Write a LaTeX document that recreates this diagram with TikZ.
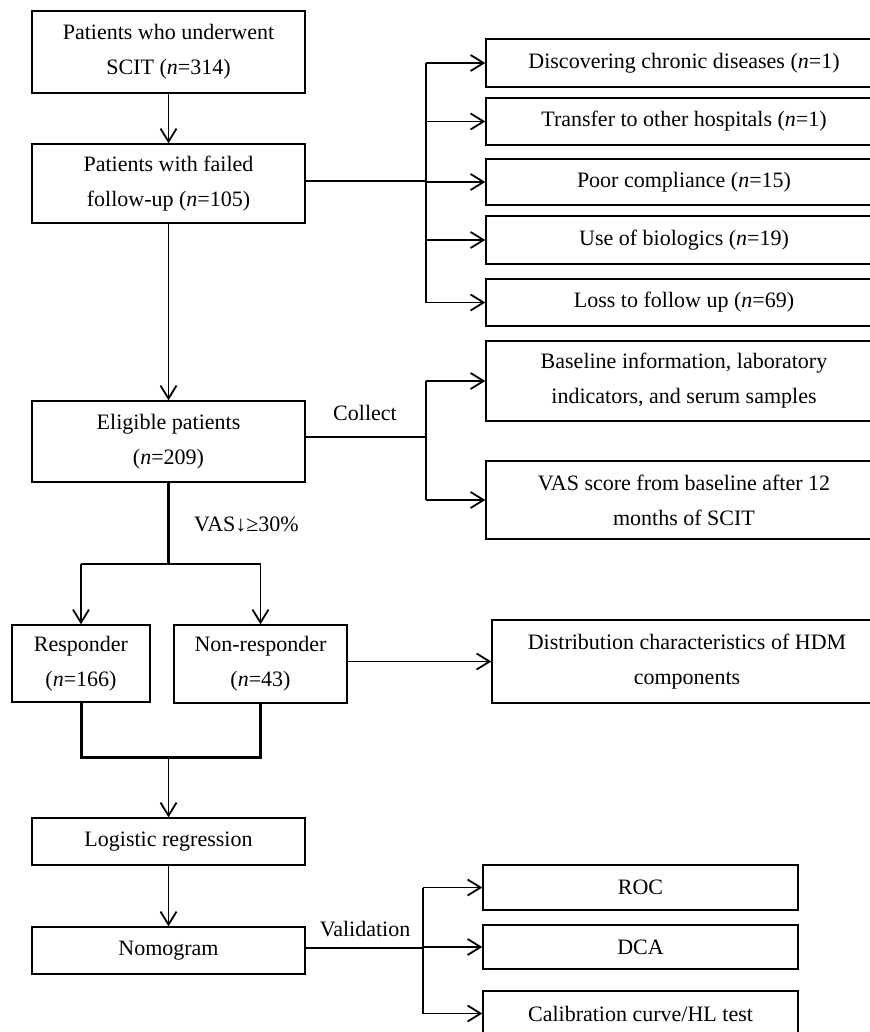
\documentclass[tikz,border=0pt]{standalone}
\usepackage{fontspec}
\setmainfont{Liberation Serif}
\usetikzlibrary{arrows.meta}
\begin{document}
\begin{tikzpicture}[x=1pt,y=-1pt,
  box/.style={draw, line width=1.4pt, align=center, inner sep=0pt, font=\fontsize{22}{35}\selectfont},
  lbl/.style={inner sep=0pt, font=\fontsize{22}{26}\selectfont},
  ln/.style={line width=1.8pt},
  bus/.style={line width=2.6pt},
  thk/.style={line width=3pt},
  arr/.style={line width=1.8pt, -{Straight Barb[length=13pt,width=16pt]}}]
\useasboundingbox (0,0) rectangle (869,1032);
% left column
\node[box, minimum width=273pt, minimum height=82pt] (b1) at (168.5,52) {Patients who underwent\\SCIT (\textit{n}=314)};
\node[box, minimum width=273pt, minimum height=79pt] (b2) at (168.5,183.5) {Patients with failed\\follow-up (\textit{n}=105)};
\node[box, minimum width=273pt, minimum height=81pt] (elig) at (168.5,441.5) {Eligible patients\\(\textit{n}=209)};
\node[box, minimum width=138pt, minimum height=77pt] (resp) at (81,663.5) {Responder\\(\textit{n}=166)};
\node[box, minimum width=173pt, minimum height=78pt] (nonr) at (260.5,664) {Non-responder\\(\textit{n}=43)};
\node[box, minimum width=273pt, minimum height=47pt] (logi) at (168.5,841.5) {Logistic regression};
\node[box, minimum width=273pt, minimum height=47pt] (nomo) at (168.5,950.5) {Nomogram};
% right column
\node[box, minimum width=396pt, minimum height=48pt] (r1) at (684,63) {Discovering chronic diseases (\textit{n}=1)};
\node[box, minimum width=396pt, minimum height=47pt] (r2) at (684,121.5) {Transfer to other hospitals (\textit{n}=1)};
\node[box, minimum width=396pt, minimum height=46pt] (r3) at (684,182) {Poor compliance (\textit{n}=15)};
\node[box, minimum width=396pt, minimum height=48pt] (r4) at (684,240) {Use of biologics (\textit{n}=19)};
\node[box, minimum width=396pt, minimum height=47pt] (r5) at (684,302.5) {Loss to follow up (\textit{n}=69)};
\node[box, minimum width=396pt, minimum height=80pt] (base) at (684,381) {Baseline information, laboratory\\indicators, and serum samples};
\node[box, minimum width=396pt, minimum height=78pt] (vas) at (684,500) {VAS score from baseline after 12\\months of SCIT};
\node[box, minimum width=390pt, minimum height=83pt] (dist) at (687,661.5) {Distribution characteristics of HDM\\components};
\node[box, minimum width=315pt, minimum height=45pt] (roc) at (640.5,887.5) {ROC};
\node[box, minimum width=315pt, minimum height=44pt] (dca) at (640.5,947) {DCA};
\node[box, minimum width=315pt, minimum height=45pt] (cal) at (640.5,1013.5) {Calibration curve/HL test};
% labels
\node[lbl] (collect) at (365,413) {Collect};
\node[lbl] (valid) at (365,929) {Validation};
\node[lbl, anchor=west] (vaslbl) at (194,525) {VAS↓≥30\%};
% coordinates
\coordinate (bus1) at (426,181);
\coordinate (bus2) at (426,437);
\coordinate (bus3) at (423,948);
\coordinate (split) at (168.5,564);
\coordinate (join) at (168.5,757);
% top group
\draw[arr] (b1.south) -- (b2.north);
\draw[ln] (b2.east |- bus1) -- (bus1);
\draw[bus] (bus1 |- r1.west) -- (bus1 |- r5.west);
\foreach \r in {r1,r2,r3,r4,r5} \draw[arr] (bus1 |- \r.west) -- (\r.west);
\draw[arr] (b2.south) -- (elig.north);
% collect group
\draw[ln] (elig.east |- bus2) -- (bus2);
\draw[bus] (bus2 |- base.west) -- (bus2 |- vas.west);
\draw[arr] (bus2 |- base.west) -- (base.west);
\draw[arr] (bus2 |- vas.west) -- (vas.west);
% split
\draw[thk] (elig.south) -- (split);
\draw[ln] (resp.north |- split) -- (nonr.north |- split);
\draw[arr] (resp.north |- split) -- (resp.north);
\draw[arr] (nonr.north |- split) -- (nonr.north);
\draw[arr] (nonr.east |- dist.west) -- (dist.west);
% join
\draw[thk] (resp.south) -- (resp.south |- join) -- (nonr.south |- join) -- (nonr.south);
\draw[arr] (join) -- (logi.north);
\draw[arr] (logi.south) -- (nomo.north);
% validation group
\draw[ln] (nomo.east |- bus3) -- (bus3);
\draw[bus] (bus3 |- roc.west) -- (bus3 |- cal.west);
\draw[arr] (bus3 |- roc.west) -- (roc.west);
\draw[arr] (bus3 |- dca.west) -- (dca.west);
\draw[arr] (bus3 |- cal.west) -- (cal.west);
\end{tikzpicture}
\end{document}
